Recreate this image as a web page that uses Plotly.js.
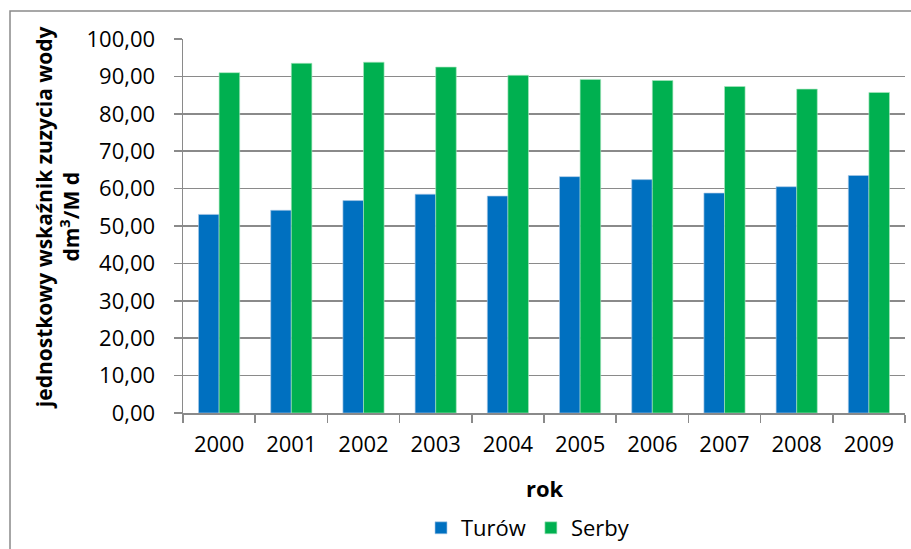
<!DOCTYPE html>
<html>
<head>
<meta charset="utf-8">
<script src="https://cdn.plot.ly/plotly-3.0.1.min.js"></script>
<style>html,body{margin:0;padding:0;background:#fff;}#chart{width:911px;height:549px;}</style>
</head>
<body>
<div id="chart"></div>
<script>
const years = ['2000','2001','2002','2003','2004','2005','2006','2007','2008','2009'];
const turow = [53.1, 54.2, 56.8, 58.5, 58.0, 63.2, 62.4, 58.8, 60.5, 63.5];
const serby = [91.0, 93.5, 93.8, 92.5, 90.3, 89.2, 88.9, 87.3, 86.6, 85.7];
const yTicks = [0, 10, 20, 30, 40, 50, 60, 70, 80, 90, 100];

const FONT = 'Open Sans, Noto Sans, DejaVu Sans, sans-serif';
const GRID = '#8a8a8a';

const traces = [
  {type: 'bar', name: 'Turów', x: years, y: turow, marker: {color: '#0070C0', line: {color: 'rgba(170,200,230,0.8)', width: 0.8}}},
  {type: 'bar', name: 'Serby', x: years, y: serby, marker: {color: '#00B050', line: {color: 'rgba(170,230,190,0.8)', width: 0.8}}}
];

const layout = {
  width: 911, height: 549,
  margin: {l: 183, r: 6, t: 39, b: 136, autoexpand: false},
  paper_bgcolor: '#fff', plot_bgcolor: '#fff',
  separators: ', ',
  barmode: 'group', bargap: 0.43, bargroupgap: 0,
  font: {family: FONT, color: '#000', size: 22},
  showlegend: true,
  legend: {orientation: 'h', xref: 'container', yref: 'container',
           x: 528 / 911, y: 1 - 528 / 549, xanchor: 'center', yanchor: 'middle',
           font: {family: FONT, size: 22, color: '#000'}, itemclick: false},
  xaxis: {
    type: 'category', showgrid: false, showline: true, linecolor: GRID, linewidth: 1.5,
    ticks: 'outside', tickson: 'boundaries', ticklen: 8, tickcolor: GRID, tickwidth: 1.5,
    ticklabelstandoff: 11, tickfont: {family: FONT, size: 22, color: '#000'}
  },
  yaxis: {
    range: [0, 100], tickvals: yTicks, tickformat: '.2f',
    showgrid: true, gridcolor: GRID, gridwidth: 1.5, zeroline: false,
    showline: true, linecolor: GRID, linewidth: 1.5,
    ticks: 'outside', ticklen: 8, tickcolor: GRID, tickwidth: 1.5,
    ticklabelstandoff: 14, tickfont: {family: FONT, size: 22, color: '#000'}
  },
  annotations: [
    {xref: 'paper', yref: 'paper', x: -0.1745, y: 0.521, xanchor: 'center', yanchor: 'middle',
     textangle: -90, showarrow: false,
     text: '<b>jednostkowy wskaźnik zuzycia wody<br>dm<sup>3</sup>/M d</b>',
     font: {family: FONT, size: 21, color: '#000'}},
    {xref: 'paper', yref: 'paper', x: 0.5014, y: -0.2005, xanchor: 'center', yanchor: 'middle',
     showarrow: false, text: '<b>rok</b>', font: {family: FONT, size: 22, color: '#000'}}
  ],
  shapes: [
    {type: 'rect', xref: 'paper', yref: 'paper', x0: -0.2396, x1: 1.2, y0: -0.6, y1: 1.0749,
     line: {color: GRID, width: 1.5}, fillcolor: 'rgba(0,0,0,0)', layer: 'below'}
  ]
};

Plotly.newPlot('chart', traces, layout, {displayModeBar: false, staticPlot: true});
</script>
</body>
</html>
